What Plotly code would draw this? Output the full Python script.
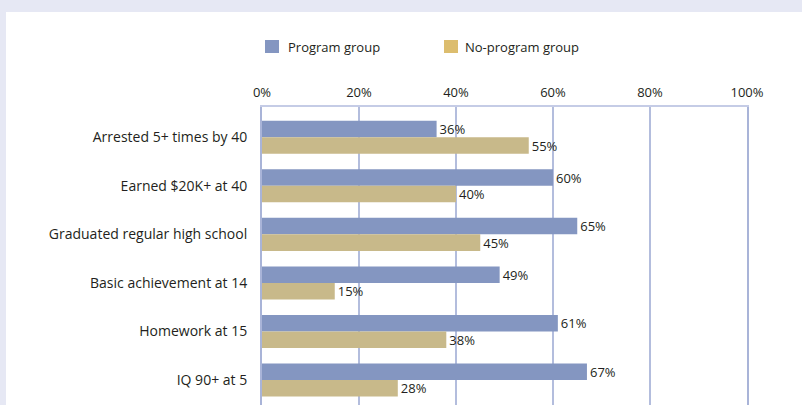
import plotly.graph_objects as go

categories = [
    "Arrested 5+ times by 40",
    "Earned $20K+ at 40",
    "Graduated regular high school",
    "Basic achievement at 14",
    "Homework at 15",
    "IQ 90+ at 5",
]
program = [36, 60, 65, 49, 61, 67]
no_program = [55, 40, 45, 15, 38, 28]
x_ticks = [0, 20, 40, 60, 80, 100]
x_tick_labels = ["0%", "20%", "40%", "60%", "80%", "100%"]
series_names = ["Program group", "No-program group"]

BLUE = "#8496c1"
TAN = "#c8b98a"
LEG_TAN = "#dcbd6e"
TXT = "#231f20"
LAV = "#e6e8f4"
FONT = "Open Sans"

W, H = 802, 405
ML, MR, MT, MB = 262, 55, 107, 0
PW, PH = W - ML - MR, H - MT - MB


def px_x(px):
    return (px - ML) / PW


def px_y(py):
    return 1 - (py - MT) / PH


fig = go.Figure()
for vals, name, col in [(program, series_names[0], BLUE), (no_program, series_names[1], TAN)]:
    fig.add_trace(go.Bar(
        y=categories, x=vals, orientation="h", name=name,
        marker=dict(color=col, line=dict(width=0)),
        text=[f"{v}%" for v in vals], textposition="outside",
        constraintext="none",
        textfont=dict(color=TXT, size=13, family=FONT), cliponaxis=False,
        showlegend=False, hoverinfo="skip",
    ))

shapes = [
    dict(type="rect", xref="paper", yref="paper", x0=px_x(-5), x1=px_x(W + 5),
         y0=px_y(12), y1=px_y(-5), fillcolor=LAV, line=dict(width=0), layer="below"),
    dict(type="rect", xref="paper", yref="paper", x0=px_x(-5), x1=px_x(6),
         y0=px_y(H + 5), y1=px_y(-5), fillcolor=LAV, line=dict(width=0), layer="below"),
    dict(type="rect", xref="paper", yref="paper", x0=px_x(265), x1=px_x(279),
         y0=px_y(53), y1=px_y(40), fillcolor=BLUE, line=dict(width=0)),
    dict(type="rect", xref="paper", yref="paper", x0=px_x(444), x1=px_x(458),
         y0=px_y(53), y1=px_y(40), fillcolor=LEG_TAN, line=dict(width=0)),
]
annotations = [
    dict(xref="paper", yref="paper", x=px_x(286), y=px_y(47), text=series_names[0],
         showarrow=False, xanchor="left", yanchor="middle",
         font=dict(color=TXT, size=13, family=FONT)),
    dict(xref="paper", yref="paper", x=px_x(463), y=px_y(47), text=series_names[1],
         showarrow=False, xanchor="left", yanchor="middle",
         font=dict(color=TXT, size=13, family=FONT)),
]

fig.update_layout(
    width=W, height=H,
    margin=dict(l=ML, r=MR, t=MT, b=MB, pad=0),
    paper_bgcolor="white", plot_bgcolor="white",
    barmode="group", bargap=0.32, bargroupgap=0,
    shapes=shapes, annotations=annotations,
    showlegend=False,
    font=dict(family=FONT, color=TXT, size=13),
    xaxis=dict(
        side="top", range=[0, 100], tickvals=x_ticks, ticktext=x_tick_labels,
        showgrid=True, gridcolor="#b3bddd", gridwidth=1.5, zeroline=False,
        showline=True, linecolor="#c5cce6", linewidth=1.5,
        ticks="", ticklabelstandoff=3,
        tickfont=dict(size=13, family=FONT, color=TXT),
    ),
    yaxis=dict(
        type="category", range=[5.514, -0.623],
        showgrid=False, zeroline=False,
        showline=True, linecolor="#a9b4d8", linewidth=2, mirror=True,
        ticks="", ticklabelstandoff=10,
        tickfont=dict(size=14, family=FONT, color=TXT),
    ),
)

fig.write_html(
    "out.html",
    config={"displayModeBar": False},
    post_script="document.body.style.margin='0';document.body.style.overflow='hidden';",
)
